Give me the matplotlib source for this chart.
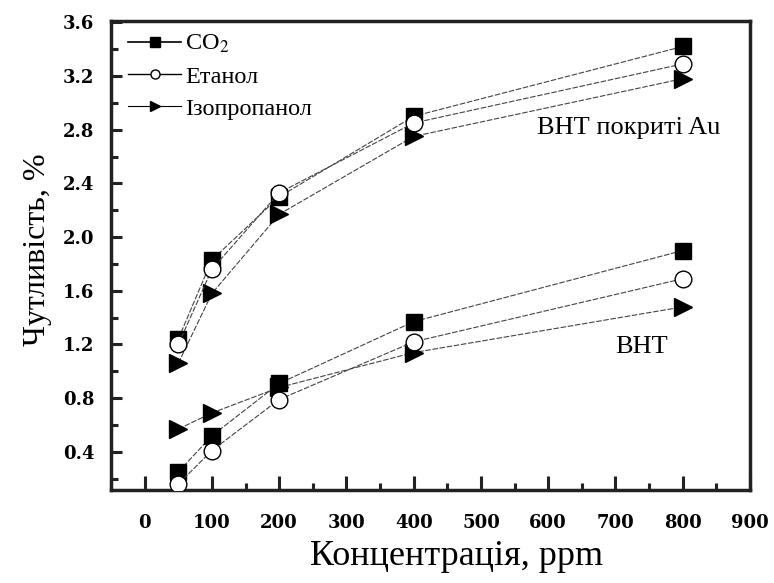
import matplotlib
matplotlib.use("Agg")
import matplotlib.pyplot as plt
from matplotlib.ticker import MultipleLocator

conc = [50, 100, 200, 400, 800]

# BHT coated with Au (upper group)
au_co2 = [1.24, 1.83, 2.30, 2.90, 3.42]
au_eth = [1.20, 1.76, 2.33, 2.85, 3.29]
au_iso = [1.06, 1.58, 2.17, 2.75, 3.18]

# bare BHT (lower group)
bht_co2 = [0.25, 0.52, 0.91, 1.37, 1.90]
bht_eth = [0.16, 0.41, 0.79, 1.22, 1.69]
bht_iso = [0.57, 0.69, 0.88, 1.14, 1.48]

labels = ["CO$_2$", "Етанол", "Ізопропанол"]
xticks = [0, 100, 200, 300, 400, 500, 600, 700, 800, 900]
yticks = [0.4, 0.8, 1.2, 1.6, 2.0, 2.4, 2.8, 3.2, 3.6]

plt.rcParams['font.family'] = ['Liberation Serif', 'DejaVu Serif']
plt.rcParams['mathtext.fontset'] = 'stix'

fig = plt.figure(figsize=(7.74, 5.83), dpi=100)
ax = fig.add_axes([0.1434, 0.1595, 0.969 - 0.1434, 0.964 - 0.1595])

line_kw = dict(color='#444444', lw=0.8, linestyle=(0, (5, 1.5)))
styles = [
    dict(marker='s', mfc='black', mec='black', ms=11.5, zorder=4),
    dict(marker='o', mfc='white', mec='black', ms=12, mew=1.0, zorder=5),
    dict(marker='>', mfc='black', mec='black', ms=12.5, zorder=3),
]

for ys, st in zip([au_co2, au_eth, au_iso], styles):
    ax.plot(conc, ys, **line_kw, **st)
for ys, st in zip([bht_co2, bht_eth, bht_iso], styles):
    ax.plot(conc, ys, **line_kw, **st)

# legend handles
hs = []
for lab, st, lw in zip(labels, styles, [1.2, 1.0, 0.8]):
    s = dict(st)
    s.pop('zorder')
    s['ms'] = 6.5
    h, = ax.plot([], [], color='black', lw=lw, label=lab, **s)
    hs.append(h)
leg = ax.legend(handles=hs, loc='upper left', bbox_to_anchor=(0.017, 0.987),
                frameon=False, fontsize=17.5, handlelength=2.2, handletextpad=0.15,
                labelspacing=0.42, borderaxespad=0.15, borderpad=0.1)

ax.text(720, 2.81, "ВНТ покриті Au", fontsize=19, ha='center', va='center')
ax.text(739, 1.18, "ВНТ", fontsize=19, ha='center', va='center')

ax.set_xlim(-50, 900)
ax.set_ylim(0.116, 3.61)
ax.set_xticks(xticks)
ax.set_xticklabels([str(v) for v in xticks], fontweight='bold', fontsize=13,
                   family='DejaVu Serif')
ax.xaxis.set_minor_locator(MultipleLocator(50))
ax.set_yticks(yticks)
ax.set_yticklabels([f"{v:.1f}" for v in yticks], fontweight='bold', fontsize=13,
                   family='DejaVu Serif')
ax.yaxis.set_minor_locator(MultipleLocator(0.2))

ax.tick_params(which='both', direction='in', top=False, right=False, width=2.2, color='#222222')
ax.tick_params(axis='x', which='major', length=10, pad=17)
ax.tick_params(axis='x', which='minor', length=5)
ax.tick_params(axis='y', which='major', length=8, pad=12)
ax.tick_params(axis='y', which='minor', length=5)

for sp in ax.spines.values():
    sp.set_linewidth(2.5)
    sp.set_color('#222222')

ax.set_xlabel("Концентрація, ppm", fontsize=26)
ax.set_ylabel("Чутливість, %", fontsize=23)
ax.xaxis.set_label_coords(0.541, -0.106)
ax.yaxis.set_label_coords(-0.092, 0.512)

fig.savefig("out.png", dpi=100)
